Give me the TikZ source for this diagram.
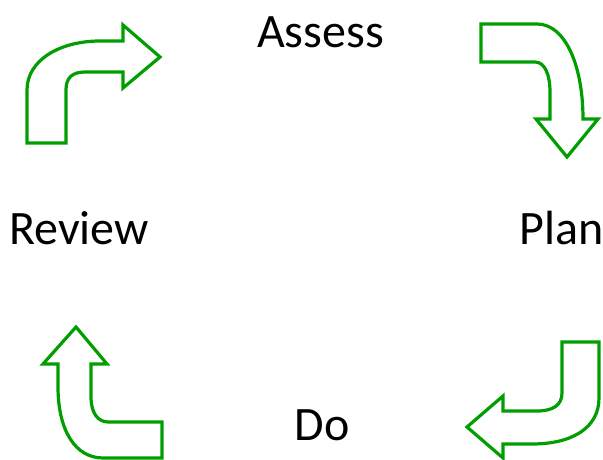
\documentclass[tikz,border=0pt]{standalone}
\usepackage{fontspec}
\setmainfont{Carlito}
\begin{document}
\begin{tikzpicture}[x=0.75pt,y=-0.75pt,
  bentarrow/.style={draw=arrowgreen,line width=2.4pt,line join=miter,fill=white},
  label/.style={font=\fontsize{36}{40}\selectfont,anchor=base,inner sep=0pt}]
\definecolor{arrowgreen}{RGB}{0,158,0}
\useasboundingbox (0,0) rectangle (603,460);
% labels
\node[label] (assess) at (320.5,48) {Assess};
\node[label] (review) at (79,244) {Review};
\node[label] (plan) at (561.5,244) {Plan};
\node[label] (do) at (322,440) {Do};
% top-left arrow (Review -> Assess)
\draw[bentarrow] (27,143) -- (27,90) .. controls (27,60) and (60,41) .. (100,41)
  -- (123,41) -- (123,25) -- (160,57) -- (123,88) -- (123,72) -- (85,72)
  .. controls (72,72) and (66,78) .. (66,90) -- (66,143) -- cycle;
% top-right arrow (Assess -> Plan)
\draw[bentarrow] (481,24) -- (537,24) .. controls (565,24) and (583,65) .. (583,119)
  -- (598,119) -- (567,157) -- (536,119) -- (550,119) -- (550,92)
  .. controls (550,75) and (545,62) .. (535,62) -- (481,62) -- cycle;
% bottom-right arrow (Plan -> Do)
\draw[bentarrow] (562,342) -- (599,342) -- (599,398) .. controls (599,428) and (572,444) .. (532,444)
  -- (503,444) -- (503,458) -- (467,427) -- (503,396) -- (503,411) -- (537,411)
  .. controls (553,411) and (562,405) .. (562,393) -- cycle;
% bottom-left arrow (Do -> Review)
\draw[bentarrow] (76,327) -- (107,364) -- (91,364) -- (91,397)
  .. controls (91,413) and (98,422) .. (108,422) -- (162,422) -- (162,458) -- (103,458)
  .. controls (75,458) and (58,430) .. (58,387) -- (58,364) -- (43,364) -- cycle;
\end{tikzpicture}
\end{document}
